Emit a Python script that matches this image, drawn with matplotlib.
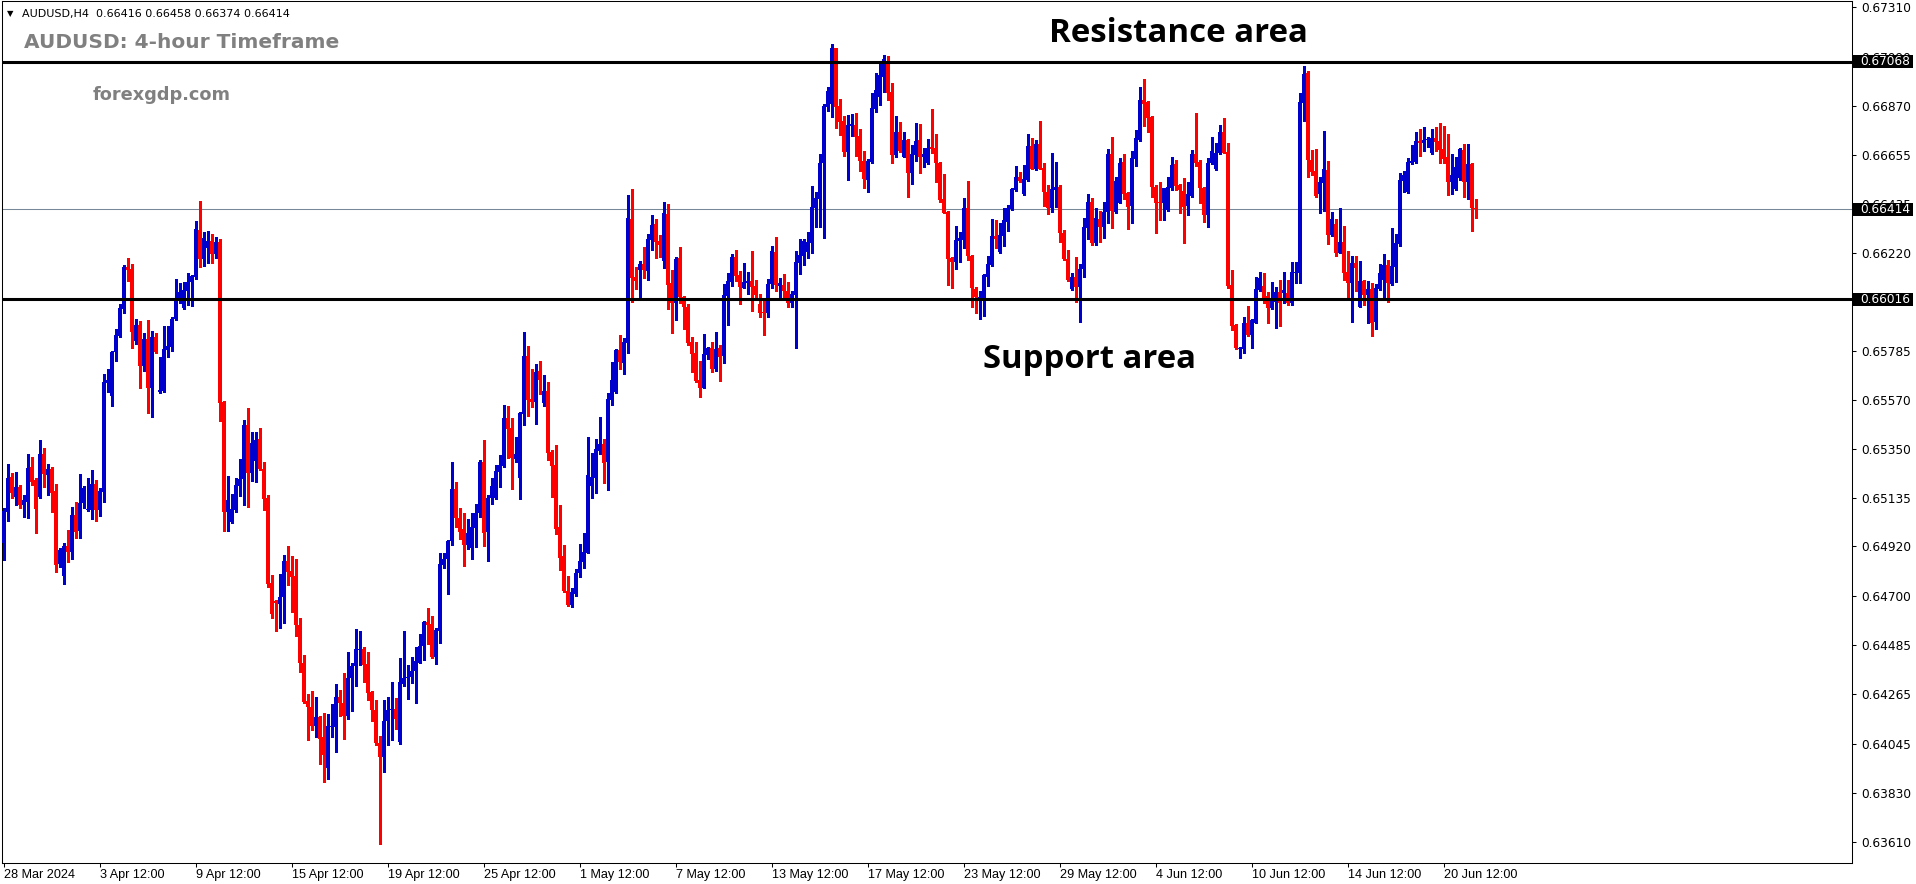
import matplotlib
matplotlib.use("Agg")
import matplotlib.pyplot as plt
import matplotlib.transforms as mtransforms
from matplotlib.patches import Rectangle
import numpy as np

# ---------------- data (AUDUSD H4) ----------------
open_ = [
    0.64934, 0.65074, 0.65229, 0.65141, 0.65185, 0.65104, 0.65119, 0.65274, 0.65215, 0.65141,
    0.65330, 0.65237, 0.65263, 0.65166, 0.64843, 0.64787, 0.64922, 0.64897, 0.65060, 0.64989,
    0.65114, 0.65083, 0.65082, 0.65197, 0.65082, 0.65163, 0.65646, 0.65587, 0.65781, 0.65854,
    0.65972, 0.66156, 0.66149, 0.65830, 0.65901, 0.65721, 0.65839, 0.65623, 0.65848, 0.65606,
    0.65609, 0.65790, 0.65805, 0.65928, 0.66009, 0.65975, 0.66053, 0.66090, 0.66115, 0.66322,
    0.66192, 0.66243, 0.66273, 0.66214, 0.66268, 0.65561, 0.65074, 0.65030, 0.65082, 0.65190,
    0.65219, 0.65458, 0.65247, 0.65300, 0.65396, 0.65261, 0.65135, 0.64760, 0.64677, 0.64667,
    0.64696, 0.64857, 0.64812, 0.64787, 0.64570, 0.64406, 0.64236, 0.64209, 0.64126, 0.64164,
    0.64077, 0.63938, 0.64120, 0.64120, 0.64255, 0.64226, 0.64168, 0.64338, 0.64390, 0.64460,
    0.64464, 0.64400, 0.64274, 0.64197, 0.64048, 0.63986, 0.64145, 0.64197, 0.64199, 0.64052,
    0.64309, 0.64338, 0.64342, 0.64367, 0.64406, 0.64478, 0.64586, 0.64576, 0.64431, 0.64547,
    0.64837, 0.64864, 0.64942, 0.65174, 0.65044, 0.64997, 0.64927, 0.64912, 0.65003, 0.65070,
    0.65295, 0.64986, 0.65133, 0.65133, 0.65251, 0.65276, 0.65490, 0.65446, 0.65307, 0.65225,
    0.65505, 0.65765, 0.65573, 0.65561, 0.65697, 0.65554, 0.65610, 0.65340, 0.65281, 0.65008,
    0.64879, 0.64723, 0.64661, 0.64710, 0.64804, 0.64853, 0.64893, 0.65188, 0.65225, 0.65343,
    0.65374, 0.65295, 0.65569, 0.65605, 0.65790, 0.65734, 0.65822, 0.66370, 0.66115, 0.66144,
    0.66171, 0.66141, 0.66277, 0.66348, 0.66273, 0.66186, 0.66392, 0.66085, 0.66000, 0.66196,
    0.66023, 0.65982, 0.65824, 0.65775, 0.65657, 0.65623, 0.65768, 0.65797, 0.65706, 0.65797,
    0.65765, 0.66031, 0.66093, 0.66200, 0.66122, 0.66067, 0.66085, 0.66096, 0.66073, 0.65994,
    0.65960, 0.65952, 0.66082, 0.66225, 0.66073, 0.66078, 0.66051, 0.66000, 0.66034, 0.66177,
    0.66208, 0.66225, 0.66265, 0.66420, 0.66459, 0.66620, 0.66868, 0.66879, 0.67126, 0.66870,
    0.66804, 0.66668, 0.66782, 0.66786, 0.66738, 0.66627, 0.66543, 0.66624, 0.66857, 0.66912,
    0.67000, 0.67070, 0.66931, 0.66653, 0.66757, 0.66646, 0.66720, 0.66575, 0.66653, 0.66720,
    0.66646, 0.66617, 0.66690, 0.66683, 0.66620, 0.66459, 0.66403, 0.66199, 0.66181, 0.66273,
    0.66277, 0.66420, 0.66208, 0.66060, 0.66019, 0.66022, 0.66115, 0.66166, 0.66295, 0.66225,
    0.66296, 0.66358, 0.66414, 0.66499, 0.66558, 0.66481, 0.66543, 0.66695, 0.66592, 0.66702,
    0.66597, 0.66488, 0.66420, 0.66501, 0.66513, 0.66310, 0.66192, 0.66059, 0.66112, 0.66070,
    0.66149, 0.66332, 0.66447, 0.66266, 0.66371, 0.66337, 0.66403, 0.66658, 0.66403, 0.66443,
    0.66625, 0.66484, 0.66428, 0.66636, 0.66720, 0.66898, 0.66890, 0.66824, 0.66514, 0.66447,
    0.66440, 0.66411, 0.66506, 0.66614, 0.66521, 0.66495, 0.66428, 0.66474, 0.66658, 0.66625,
    0.66509, 0.66388, 0.66617, 0.66592, 0.66661, 0.66757, 0.66669, 0.66078, 0.65901, 0.65795,
    0.65794, 0.65912, 0.65857, 0.65912, 0.66056, 0.66075, 0.66030, 0.65978, 0.66005, 0.66049,
    0.66042, 0.66042, 0.65997, 0.66130, 0.66130, 0.66883, 0.67019, 0.66632, 0.66583, 0.66481,
    0.66532, 0.66588, 0.66300, 0.66349, 0.66222, 0.66267, 0.66134, 0.66089, 0.66174, 0.65982,
    0.66096, 0.66034, 0.66061, 0.65916, 0.66061, 0.66101, 0.66167, 0.66083, 0.66160, 0.66258,
    0.66540, 0.66489, 0.66620, 0.66625, 0.66716, 0.66709, 0.66720, 0.66664, 0.66731, 0.66716,
    0.66679, 0.66647, 0.66536, 0.66504, 0.66551, 0.66676, 0.66536, 0.66614, 0.66416,
]
high = [
    0.65089, 0.65285, 0.65247, 0.65250, 0.65192, 0.65148, 0.65330, 0.65318, 0.65225, 0.65392,
    0.65358, 0.65285, 0.65274, 0.65197, 0.64912, 0.64934, 0.64993, 0.65097, 0.65119, 0.65241,
    0.65190, 0.65225, 0.65259, 0.65215, 0.65178, 0.65684, 0.65706, 0.65787, 0.65883, 0.65994,
    0.66167, 0.66196, 0.66171, 0.65928, 0.65919, 0.65864, 0.65923, 0.65874, 0.65864, 0.65761,
    0.65898, 0.65898, 0.65938, 0.66105, 0.66085, 0.66093, 0.66130, 0.66122, 0.66361, 0.66450,
    0.66314, 0.66317, 0.66304, 0.66289, 0.66280, 0.65566, 0.65234, 0.65153, 0.65225, 0.65308,
    0.65480, 0.65535, 0.65429, 0.65429, 0.65443, 0.65296, 0.65147, 0.64793, 0.64681, 0.64797,
    0.64880, 0.64924, 0.64876, 0.64866, 0.64603, 0.64439, 0.64265, 0.64280, 0.64255, 0.64168,
    0.64184, 0.64178, 0.64222, 0.64309, 0.64286, 0.64361, 0.64454, 0.64406, 0.64555, 0.64545,
    0.64474, 0.64454, 0.64280, 0.64242, 0.64081, 0.64238, 0.64255, 0.64319, 0.64251, 0.64425,
    0.64545, 0.64396, 0.64431, 0.64474, 0.64532, 0.64590, 0.64648, 0.64613, 0.64561, 0.64893,
    0.64893, 0.64947, 0.65296, 0.65205, 0.65089, 0.65070, 0.65040, 0.65070, 0.65107, 0.65303,
    0.65391, 0.65148, 0.65222, 0.65281, 0.65325, 0.65546, 0.65542, 0.65487, 0.65406, 0.65517,
    0.65868, 0.65809, 0.65706, 0.65728, 0.65743, 0.65679, 0.65650, 0.65347, 0.65369, 0.65104,
    0.64926, 0.64789, 0.64738, 0.64819, 0.64931, 0.64981, 0.65406, 0.65335, 0.65394, 0.65495,
    0.65394, 0.65601, 0.65738, 0.65794, 0.65856, 0.65842, 0.66476, 0.66503, 0.66156, 0.66186,
    0.66245, 0.66304, 0.66388, 0.66369, 0.66299, 0.66444, 0.66437, 0.66144, 0.66203, 0.66245,
    0.66031, 0.65994, 0.65846, 0.65824, 0.65741, 0.65861, 0.65805, 0.65824, 0.65868, 0.65812,
    0.66082, 0.66130, 0.66215, 0.66233, 0.66141, 0.66174, 0.66134, 0.66228, 0.66100, 0.66037,
    0.66007, 0.66104, 0.66251, 0.66289, 0.66107, 0.66127, 0.66090, 0.66051, 0.66228, 0.66282,
    0.66282, 0.66314, 0.66516, 0.66488, 0.66658, 0.66879, 0.66953, 0.67144, 0.67129, 0.66901,
    0.66826, 0.66831, 0.66835, 0.66838, 0.66769, 0.66671, 0.66636, 0.66927, 0.67018, 0.67055,
    0.67096, 0.67092, 0.66971, 0.66826, 0.66801, 0.66754, 0.66724, 0.66698, 0.66797, 0.66791,
    0.66683, 0.66724, 0.66857, 0.66749, 0.66624, 0.66568, 0.66406, 0.66203, 0.66339, 0.66311,
    0.66465, 0.66538, 0.66211, 0.66070, 0.66051, 0.66125, 0.66208, 0.66370, 0.66366, 0.66351,
    0.66417, 0.66432, 0.66509, 0.66606, 0.66580, 0.66609, 0.66745, 0.66730, 0.66720, 0.66806,
    0.66617, 0.66521, 0.66664, 0.66621, 0.66521, 0.66321, 0.66233, 0.66130, 0.66203, 0.66169,
    0.66373, 0.66479, 0.66465, 0.66418, 0.66406, 0.66447, 0.66681, 0.66735, 0.66558, 0.66642,
    0.66657, 0.66489, 0.66672, 0.66765, 0.66957, 0.66991, 0.66895, 0.66827, 0.66521, 0.66533,
    0.66509, 0.66558, 0.66647, 0.66632, 0.66524, 0.66551, 0.66536, 0.66676, 0.66842, 0.66632,
    0.66514, 0.66639, 0.66732, 0.66706, 0.66787, 0.66816, 0.66709, 0.66145, 0.65904, 0.65805,
    0.65938, 0.65985, 0.65926, 0.66112, 0.66135, 0.66130, 0.66046, 0.66090, 0.66071, 0.66101,
    0.66137, 0.66101, 0.66182, 0.66182, 0.66927, 0.67048, 0.67028, 0.66676, 0.66681, 0.66558,
    0.66760, 0.66627, 0.66400, 0.66371, 0.66418, 0.66340, 0.66229, 0.66207, 0.66207, 0.66185,
    0.66101, 0.66098, 0.66086, 0.66081, 0.66171, 0.66216, 0.66189, 0.66332, 0.66304, 0.66576,
    0.66583, 0.66639, 0.66698, 0.66757, 0.66768, 0.66780, 0.66732, 0.66768, 0.66780, 0.66797,
    0.66782, 0.66747, 0.66658, 0.66644, 0.66687, 0.66701, 0.66701, 0.66617, 0.66458,
]
low = [
    0.64860, 0.65035, 0.65133, 0.65104, 0.65092, 0.65052, 0.65048, 0.65192, 0.64981, 0.65133,
    0.65182, 0.65148, 0.65074, 0.64809, 0.64828, 0.64754, 0.64853, 0.64865, 0.64959, 0.64959,
    0.65089, 0.65079, 0.65042, 0.65035, 0.65057, 0.65119, 0.65606, 0.65542, 0.65742, 0.65849,
    0.65956, 0.66097, 0.65798, 0.65815, 0.65623, 0.65699, 0.65510, 0.65495, 0.65778, 0.65598,
    0.65604, 0.65761, 0.65787, 0.65923, 0.66000, 0.65970, 0.65990, 0.65987, 0.66105, 0.66159,
    0.66162, 0.66177, 0.66177, 0.66199, 0.65477, 0.64990, 0.64990, 0.65023, 0.65071, 0.65145,
    0.65104, 0.65096, 0.65212, 0.65207, 0.65259, 0.65083, 0.64740, 0.64603, 0.64547, 0.64561,
    0.64580, 0.64750, 0.64628, 0.64522, 0.64363, 0.64228, 0.64064, 0.64106, 0.64077, 0.63957,
    0.63878, 0.63890, 0.64077, 0.64009, 0.64168, 0.64067, 0.64158, 0.64193, 0.64300, 0.64396,
    0.64319, 0.64238, 0.64149, 0.64039, 0.63603, 0.63920, 0.64042, 0.64062, 0.64112, 0.64045,
    0.64300, 0.64245, 0.64315, 0.64228, 0.64402, 0.64416, 0.64489, 0.64425, 0.64400, 0.64493,
    0.64826, 0.64710, 0.64928, 0.65005, 0.64953, 0.64834, 0.64907, 0.64864, 0.64919, 0.65052,
    0.64922, 0.64856, 0.65107, 0.65129, 0.65185, 0.65273, 0.65310, 0.65174, 0.65295, 0.65130,
    0.65458, 0.65498, 0.65536, 0.65462, 0.65595, 0.65542, 0.65303, 0.65138, 0.64975, 0.64816,
    0.64717, 0.64658, 0.64653, 0.64701, 0.64783, 0.64826, 0.64890, 0.65136, 0.65158, 0.65328,
    0.65203, 0.65170, 0.65546, 0.65601, 0.65706, 0.65682, 0.65778, 0.66004, 0.66059, 0.66023,
    0.66110, 0.66100, 0.66233, 0.66196, 0.66203, 0.66155, 0.65972, 0.65867, 0.65923, 0.66000,
    0.65883, 0.65812, 0.65694, 0.65647, 0.65583, 0.65620, 0.65750, 0.65694, 0.65697, 0.65654,
    0.65734, 0.65901, 0.66073, 0.66097, 0.65994, 0.66063, 0.66038, 0.65963, 0.66019, 0.65938,
    0.65856, 0.65938, 0.66067, 0.66053, 0.66023, 0.66026, 0.65979, 0.65982, 0.65797, 0.66127,
    0.66166, 0.66196, 0.66221, 0.66333, 0.66336, 0.66287, 0.66850, 0.66820, 0.66775, 0.66742,
    0.66649, 0.66543, 0.66738, 0.66651, 0.66584, 0.66509, 0.66491, 0.66620, 0.66845, 0.66875,
    0.66934, 0.66897, 0.66620, 0.66646, 0.66668, 0.66643, 0.66469, 0.66525, 0.66628, 0.66575,
    0.66602, 0.66614, 0.66661, 0.66535, 0.66447, 0.66395, 0.66078, 0.66066, 0.66149, 0.66181,
    0.66240, 0.66191, 0.65979, 0.65952, 0.65926, 0.65942, 0.66075, 0.66162, 0.66240, 0.66221,
    0.66251, 0.66317, 0.66410, 0.66494, 0.66534, 0.66476, 0.66540, 0.66590, 0.66587, 0.66590,
    0.66429, 0.66391, 0.66403, 0.66425, 0.66270, 0.66189, 0.66097, 0.66056, 0.66004, 0.65913,
    0.66115, 0.66284, 0.66256, 0.66256, 0.66270, 0.66288, 0.66351, 0.66332, 0.66396, 0.66440,
    0.66458, 0.66326, 0.66351, 0.66607, 0.66717, 0.66782, 0.66757, 0.66470, 0.66310, 0.66366,
    0.66366, 0.66408, 0.66499, 0.66499, 0.66399, 0.66263, 0.66388, 0.66470, 0.66605, 0.66443,
    0.66359, 0.66337, 0.66614, 0.66588, 0.66658, 0.66661, 0.66064, 0.65879, 0.65794, 0.65754,
    0.65776, 0.65850, 0.65801, 0.65909, 0.66053, 0.65997, 0.65912, 0.65972, 0.65889, 0.65897,
    0.65997, 0.65990, 0.65990, 0.66086, 0.66086, 0.66806, 0.66558, 0.66565, 0.66470, 0.66399,
    0.66406, 0.66260, 0.66295, 0.66208, 0.66219, 0.66101, 0.66024, 0.65916, 0.66053, 0.65979,
    0.65990, 0.65912, 0.65854, 0.65884, 0.66056, 0.66019, 0.66005, 0.66078, 0.66093, 0.66251,
    0.66492, 0.66484, 0.66613, 0.66620, 0.66650, 0.66672, 0.66691, 0.66658, 0.66672, 0.66617,
    0.66617, 0.66477, 0.66481, 0.66499, 0.66543, 0.66470, 0.66459, 0.66319, 0.66374,
]
close = [
    0.65077, 0.65225, 0.65159, 0.65185, 0.65104, 0.65126, 0.65268, 0.65207, 0.65086, 0.65330,
    0.65241, 0.65263, 0.65159, 0.64838, 0.64905, 0.64922, 0.64897, 0.65060, 0.64986, 0.65111,
    0.65181, 0.65086, 0.65197, 0.65082, 0.65166, 0.65649, 0.65657, 0.65781, 0.65857, 0.65976,
    0.66156, 0.66144, 0.65871, 0.65901, 0.65721, 0.65839, 0.65623, 0.65848, 0.65783, 0.65613,
    0.65795, 0.65808, 0.65928, 0.66016, 0.66046, 0.66056, 0.66090, 0.66119, 0.66326, 0.66192,
    0.66288, 0.66273, 0.66214, 0.66270, 0.65557, 0.65074, 0.65126, 0.65086, 0.65192, 0.65219,
    0.65458, 0.65247, 0.65380, 0.65392, 0.65263, 0.65131, 0.64754, 0.64619, 0.64669, 0.64696,
    0.64857, 0.64808, 0.64783, 0.64574, 0.64406, 0.64232, 0.64209, 0.64126, 0.64164, 0.64067,
    0.63996, 0.64126, 0.64122, 0.64255, 0.64226, 0.64168, 0.64338, 0.64390, 0.64464, 0.64464,
    0.64396, 0.64271, 0.64197, 0.64048, 0.63986, 0.64145, 0.64197, 0.64201, 0.64155, 0.64319,
    0.64338, 0.64342, 0.64367, 0.64412, 0.64478, 0.64586, 0.64574, 0.64431, 0.64551, 0.64841,
    0.64864, 0.64942, 0.65174, 0.65044, 0.64986, 0.64927, 0.64978, 0.65008, 0.65070, 0.65295,
    0.64981, 0.65136, 0.65188, 0.65254, 0.65281, 0.65487, 0.65440, 0.65313, 0.65329, 0.65512,
    0.65765, 0.65569, 0.65561, 0.65694, 0.65657, 0.65610, 0.65335, 0.65278, 0.64997, 0.64870,
    0.64723, 0.64661, 0.64720, 0.64804, 0.64856, 0.64894, 0.65236, 0.65229, 0.65352, 0.65374,
    0.65291, 0.65573, 0.65657, 0.65790, 0.65735, 0.65824, 0.66376, 0.66110, 0.66095, 0.66171,
    0.66144, 0.66281, 0.66343, 0.66270, 0.66255, 0.66397, 0.66078, 0.66000, 0.66193, 0.66023,
    0.65982, 0.65823, 0.65772, 0.65654, 0.65623, 0.65771, 0.65797, 0.65706, 0.65793, 0.65761,
    0.66034, 0.66096, 0.66200, 0.66118, 0.66070, 0.66090, 0.66096, 0.66070, 0.66034, 0.65955,
    0.65952, 0.66082, 0.66230, 0.66078, 0.66085, 0.66051, 0.66000, 0.66037, 0.66178, 0.66211,
    0.66274, 0.66267, 0.66422, 0.66462, 0.66617, 0.66870, 0.66937, 0.67126, 0.66868, 0.66801,
    0.66668, 0.66786, 0.66791, 0.66735, 0.66627, 0.66547, 0.66627, 0.66860, 0.66941, 0.67008,
    0.67077, 0.66930, 0.66653, 0.66757, 0.66673, 0.66720, 0.66575, 0.66658, 0.66715, 0.66646,
    0.66658, 0.66687, 0.66680, 0.66617, 0.66454, 0.66398, 0.66193, 0.66181, 0.66277, 0.66285,
    0.66420, 0.66208, 0.66066, 0.66026, 0.66026, 0.66122, 0.66169, 0.66295, 0.66282, 0.66299,
    0.66366, 0.66417, 0.66503, 0.66558, 0.66538, 0.66547, 0.66695, 0.66594, 0.66701, 0.66594,
    0.66491, 0.66420, 0.66503, 0.66513, 0.66307, 0.66192, 0.66100, 0.66115, 0.66070, 0.66149,
    0.66333, 0.66444, 0.66266, 0.66377, 0.66337, 0.66403, 0.66658, 0.66406, 0.66539, 0.66620,
    0.66480, 0.66425, 0.66639, 0.66728, 0.66898, 0.66880, 0.66819, 0.66511, 0.66443, 0.66440,
    0.66506, 0.66511, 0.66610, 0.66517, 0.66499, 0.66425, 0.66481, 0.66658, 0.66620, 0.66506,
    0.66388, 0.66617, 0.66672, 0.66661, 0.66757, 0.66664, 0.66074, 0.65897, 0.65801, 0.65801,
    0.65909, 0.65857, 0.65923, 0.66059, 0.66111, 0.66022, 0.65978, 0.66008, 0.66046, 0.65997,
    0.66056, 0.65997, 0.66135, 0.66133, 0.66890, 0.67013, 0.66632, 0.66580, 0.66474, 0.66536,
    0.66592, 0.66300, 0.66371, 0.66222, 0.66267, 0.66133, 0.66089, 0.66174, 0.66155, 0.66096,
    0.66034, 0.66061, 0.65912, 0.66064, 0.66130, 0.66167, 0.66086, 0.66163, 0.66266, 0.66543,
    0.66565, 0.66622, 0.66627, 0.66716, 0.66709, 0.66720, 0.66723, 0.66731, 0.66713, 0.66676,
    0.66636, 0.66536, 0.66565, 0.66599, 0.66681, 0.66536, 0.66614, 0.66418, 0.66414,
]

date_labels = ["28 Mar 2024", "3 Apr 12:00", "9 Apr 12:00", "15 Apr 12:00", "19 Apr 12:00",
               "25 Apr 12:00", "1 May 12:00", "7 May 12:00", "13 May 12:00", "17 May 12:00",
               "23 May 12:00", "29 May 12:00", "4 Jun 12:00", "10 Jun 12:00", "14 Jun 12:00",
               "20 Jun 12:00"]
bars_per_label = 24

price_ticks = [0.67310, 0.67090, 0.66870, 0.66655, 0.66435, 0.66220, 0.65785, 0.65570,
               0.65350, 0.65135, 0.64920, 0.64700, 0.64485, 0.64265, 0.64045, 0.63830, 0.63610]

resistance = 0.67068
support = 0.66016
bid = 0.66414
header = "AUDUSD,H4  0.66416 0.66458 0.66374 0.66414"

# ---------------- layout ----------------
W, H = 1916, 884
fig = plt.figure(figsize=(W / 100, H / 100), dpi=100)
fig.patch.set_facecolor("white")
renderer = fig.canvas.get_renderer()

px_left, px_right, px_top, px_bottom = 2, 1852, 1, 863
ax = fig.add_axes([px_left / W, 1 - px_bottom / H,
                   (px_right - px_left) / W, (px_bottom - px_top) / H])
ax.set_facecolor("white")
BAR_PX = 4.0
ax.set_xlim(-1.5 / BAR_PX, (px_right - px_left - 1.5) / BAR_PX)
Y_LOW, Y_HIGH = 0.63518, 0.67336
ax.set_ylim(Y_LOW, Y_HIGH)

BULL = "#0000CD"
BEAR = "#FF0000"

o = np.array(open_)
h = np.array(high)
l = np.array(low)
c = np.array(close)
x = np.arange(len(c))
colors = np.where(c >= o, BULL, BEAR)
one_px = (Y_HIGH - Y_LOW) / (px_bottom - px_top)

ax.axhline(bid, color="#778899", lw=0.75, zorder=1)
ax.vlines(x, l, h, colors=colors, linewidth=0.75, antialiased=False, zorder=3)
body_bottom = np.minimum(o, c)
body_h = np.maximum(np.abs(c - o), one_px)
ax.bar(x, body_h, bottom=body_bottom, width=0.75, color=colors, linewidth=0,
       antialiased=False, zorder=4)

ax.axhline(resistance, color="black", lw=2.2, zorder=6)
ax.axhline(support, color="black", lw=2.2, zorder=6)

for s in ax.spines.values():
    s.set_color("black")
    s.set_linewidth(0.75)

# right price axis
ax.yaxis.tick_right()
ax.set_yticks(price_ticks)
ax.set_yticklabels([f"{v:.5f}" for v in price_ticks])
ax.tick_params(axis="y", direction="out", length=3, width=0.75, pad=4,
               labelsize=8.7, labelcolor="#000000")
for t in ax.get_yticklabels():
    t.set_family("DejaVu Sans")

# bottom time axis
xt = [i * bars_per_label for i in range(len(date_labels))]
ax.set_xticks(xt)
ax.set_xticklabels(date_labels)
ax.tick_params(axis="x", direction="out", length=3, width=0.75, pad=1.5,
               labelsize=10, labelcolor="#000000")
for t in ax.get_xticklabels():
    t.set_ha("left")
    t.set_family(["Liberation Sans Narrow", "Liberation Sans", "DejaVu Sans"])

fig.canvas.draw()
# fit tick label sizes to the reference widths
lab = ax.get_xticklabels()[1]
wx = lab.get_window_extent(renderer).width
fsx = lab.get_fontsize() * 65.0 / wx
for t in ax.get_xticklabels():
    t.set_fontsize(fsx)
laby = ax.get_yticklabels()[0]
wy = laby.get_window_extent(renderer).width
fsy = laby.get_fontsize() * 50.0 / wy
for t in ax.get_yticklabels():
    t.set_fontsize(fsy)

# black price boxes on the right scale
blend = mtransforms.blended_transform_factory(ax.transAxes, ax.transData)
ax_w_px = px_right - px_left
for p in (resistance, bid, support):
    ax.add_patch(Rectangle((1.0 + 1 / ax_w_px, p - 6.5 * one_px), 60 / ax_w_px, 13 * one_px,
                           transform=blend, facecolor="black", edgecolor="none",
                           clip_on=False, zorder=20))
    ax.text(1.0 + 8 / ax_w_px, p, f"{p:.5f}", transform=blend, color="white",
            fontsize=fsy, family="DejaVu Sans", ha="left", va="center",
            clip_on=False, zorder=21)


def put(text, x_px, base_px, width_px, **kw):
    t = fig.text(x_px / W, 1 - base_px / H, text, ha="left", va="baseline", **kw)
    fig.canvas.draw()
    w = t.get_window_extent(renderer).width
    t.set_fontsize(t.get_fontsize() * width_px / w)
    return t


fig.text(7 / W, 1 - 16 / H, "\u25BC", fontsize=6, family="DejaVu Sans",
         color="black", ha="left", va="baseline")
put(header, 22, 17, 268, fontsize=8, family="DejaVu Sans", color="black")
put("AUDUSD: 4-hour Timeframe", 24, 48, 316, fontsize=14, family="DejaVu Sans",
    weight="bold", color="#808080")
put("forexgdp.com", 93, 100, 138, fontsize=12, family="DejaVu Sans",
    weight="bold", color="#808080")
put("Resistance area", 1049, 42, 258, fontsize=22, family="Open Sans",
    weight="bold", color="black")
put("Support area", 983, 368, 212, fontsize=22, family="Open Sans",
    weight="bold", color="black")

fig.savefig("out.png", dpi=100, facecolor="white")
